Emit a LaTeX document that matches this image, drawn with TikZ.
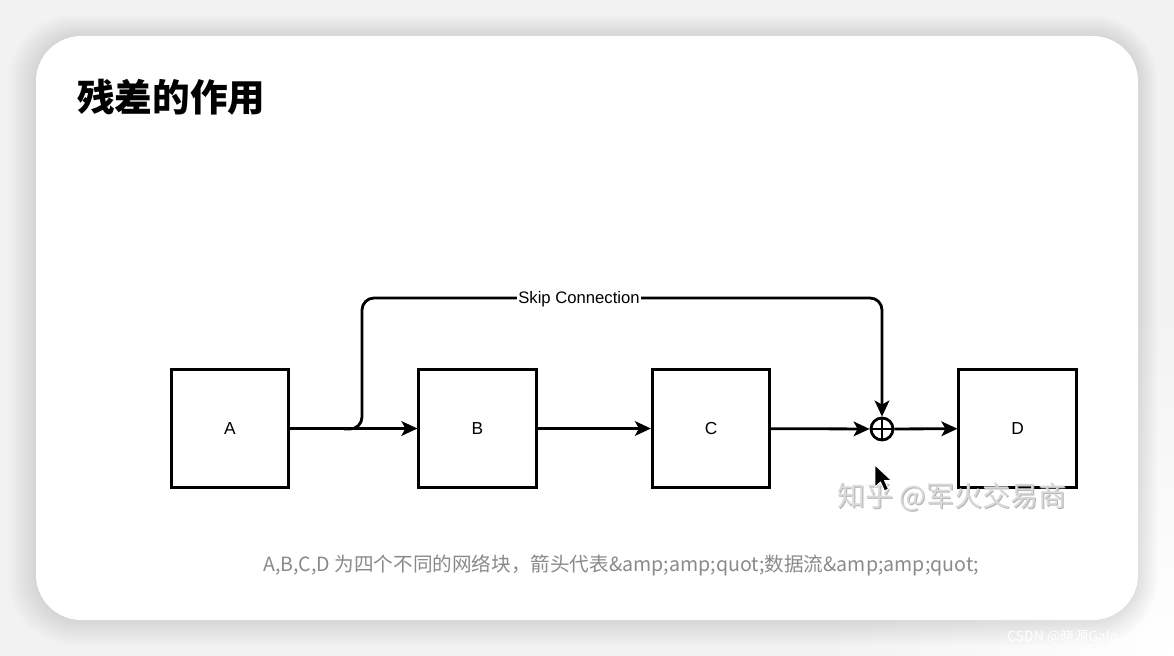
\documentclass[tikz,border=0pt]{standalone}
\usepackage{fontspec}
\setmainfont{Liberation Sans}
\newfontfamily\cjk{Noto Sans CJK SC}
\usetikzlibrary{arrows.meta}
\definecolor{bgc}{HTML}{F2F2F2}
\definecolor{capc}{HTML}{8A8A8A}
\definecolor{wmc}{HTML}{D9D9D9}
\definecolor{wms}{HTML}{B5B5B5}
\tikzset{
  blk/.style={draw=black, line width=2.1pt, minimum size=88pt, inner sep=0pt, font=\fontsize{13}{15}\selectfont},
  flow/.style={draw=black, line width=2.1pt, -{Stealth[length=12pt,width=11pt,inset=3pt]}},
  plusnode/.style={circle, draw=black, line width=2.1pt, minimum size=16.5pt, inner sep=0pt,
    path picture={\draw[line width=1.7pt] (path picture bounding box.north) -- (path picture bounding box.south)
      (path picture bounding box.west) -- (path picture bounding box.east);}},
}
\begin{document}
\begin{tikzpicture}[x=0.75pt,y=-0.75pt]
\useasboundingbox (0,0) rectangle (1174,656);
\clip (0,0) rectangle (1174,656);
\fill[bgc] (0,0) rectangle (1174,656);
\shade[inner color=white, outer color=bgc] (1174,656) circle (260pt);
% shadow
\foreach \i in {1,...,14}{
  \fill[black, opacity=0.007, rounded corners=34pt+\i*1.1pt]
    (36-\i*2.0, 36-\i*1.5) rectangle (1138+\i*1.4, 620+\i*1.8);
}
% card
\fill[white, rounded corners=34pt] (36,36) rectangle (1138,620);
% title
\node[anchor=base west, inner sep=0pt, font=\cjk\bfseries\fontsize{28.2}{30}\selectfont] (title) at (77,112) {残差的作用};
% blocks
\node[blk] (A) at (230,428.5) {A};
\node[blk] (B) at (477.5,428.5) {B};
\node[blk] (C) at (711,428.5) {C};
\node[blk] (D) at (1017.5,428.5) {D};
\node[plusnode] (plus) at (882,429) {};
% skip connection
\coordinate (s0) at (344,429);
\draw[flow, rounded corners=9pt] (s0) -- (362,429) -- (362,298) -- (882,298) -- (plus.north);
\node[fill=white, inner sep=1pt, font=\fontsize{12.5}{14}\selectfont] (lbl) at (579,299) {Skip Connection};
% main flow
\draw[flow] (A) -- (B);
\draw[flow] (B) -- (C);
\draw[flow] (C) -- (plus);
\draw[flow] (plus) -- (D);
% caption
\node[anchor=west, inner sep=0pt, text=capc, font=\cjk\fontsize{14.7}{17}\selectfont] (cap) at (263,565) {A,B,C,D 为四个不同的网络块，箭头代表\&amp;amp;quot;数据流\&amp;amp;quot;};
% watermark
\node[anchor=west, inner sep=0pt, text=wms, font=\cjk\fontsize{21}{24}\selectfont] (wm2) at (838,498) {知乎 @军火交易商};
\node[anchor=west, inner sep=0pt, text=wmc, font=\cjk\fontsize{21}{24}\selectfont] (wm) at (837,497) {知乎 @军火交易商};
% cursor
\fill[black, draw=white, line width=0.7pt, line join=round]
  (875,465) -- (875,487) -- (880.5,482) -- (884.5,491) -- (888.5,489) -- (884.5,480.5) -- (891.5,480.5) -- cycle;
% csdn
\node[anchor=west, inner sep=0pt, text=white, font=\cjk\fontsize{10.5}{12}\selectfont] (csdn) at (1007,637) {CSDN @晓源Galo};
\end{tikzpicture}
\end{document}
